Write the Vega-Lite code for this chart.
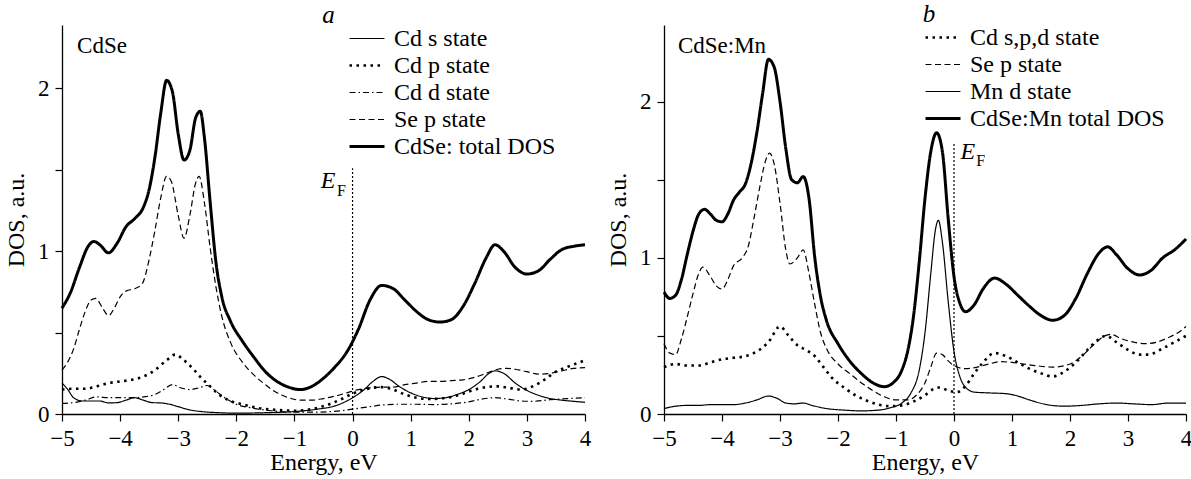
{
"$schema": "https://vega.github.io/schema/vega-lite/v6.json",
"padding": {"left": 4, "top": 2, "right": 2, "bottom": 2},
"spacing": 15,
"config": {
  "font": "Liberation Serif",
  "view": {"stroke": null},
  "axis": {"labelFont": "Liberation Serif", "labelFontSize": 23, "labelColor": "#000", "titleFont": "Liberation Serif", "titleFontSize": 24, "titleFontWeight": "normal", "titleColor": "#000", "domainColor": "#000", "domainWidth": 1.3, "tickColor": "#000", "tickWidth": 1.2, "tickSize": 7, "grid": false, "labelFlush": false, "labelOverlap": false},
  "axisX": {"labelPadding": 6, "titlePadding": 0},
  "axisY": {"labelPadding": 6, "titlePadding": 9},
  "legend": {"labelFont": "Liberation Serif", "labelFontSize": 24, "labelColor": "#000", "labelLimit": 400, "symbolType": "stroke", "symbolSize": 1225, "symbolStrokeColor": "#000", "rowPadding": 0, "clipHeight": 27, "labelOffset": 8, "padding": 0},
  "title": {"font": "Liberation Serif", "fontSize": 25, "fontStyle": "italic", "fontWeight": "normal", "color": "#000", "anchor": "middle", "baseline": "alphabetic", "offset": -3}
},
"resolve": {"scale": {"x": "independent", "y": "independent", "strokeDash": "independent", "strokeWidth": "independent"}, "legend": {"strokeDash": "independent", "strokeWidth": "independent"}},
"hconcat": [
{
  "title": {"text": "a", "dx": 5},
  "width": 523, "height": 389,
  "layer": [
    {
      "data": {"values": [
        {"series":"CdSe: total DOS","energy":-5,"dos":0.65},{"series":"CdSe: total DOS","energy":-4.85,"dos":0.75},{"series":"CdSe: total DOS","energy":-4.7,"dos":0.9},{"series":"CdSe: total DOS","energy":-4.55,"dos":1.03},{"series":"CdSe: total DOS","energy":-4.45,"dos":1.06},{"series":"CdSe: total DOS","energy":-4.35,"dos":1.04},{"series":"CdSe: total DOS","energy":-4.2,"dos":0.99},{"series":"CdSe: total DOS","energy":-4.05,"dos":1.05},{"series":"CdSe: total DOS","energy":-3.9,"dos":1.15},{"series":"CdSe: total DOS","energy":-3.75,"dos":1.2},{"series":"CdSe: total DOS","energy":-3.6,"dos":1.27},{"series":"CdSe: total DOS","energy":-3.5,"dos":1.38},{"series":"CdSe: total DOS","energy":-3.4,"dos":1.58},{"series":"CdSe: total DOS","energy":-3.3,"dos":1.85},{"series":"CdSe: total DOS","energy":-3.2,"dos":2.05},{"series":"CdSe: total DOS","energy":-3.1,"dos":1.98},{"series":"CdSe: total DOS","energy":-3.0,"dos":1.72},{"series":"CdSe: total DOS","energy":-2.9,"dos":1.56},{"series":"CdSe: total DOS","energy":-2.8,"dos":1.62},{"series":"CdSe: total DOS","energy":-2.7,"dos":1.82},{"series":"CdSe: total DOS","energy":-2.62,"dos":1.86},{"series":"CdSe: total DOS","energy":-2.55,"dos":1.7},{"series":"CdSe: total DOS","energy":-2.45,"dos":1.3},{"series":"CdSe: total DOS","energy":-2.35,"dos":0.93},{"series":"CdSe: total DOS","energy":-2.25,"dos":0.72},{"series":"CdSe: total DOS","energy":-2.1,"dos":0.57},{"series":"CdSe: total DOS","energy":-1.9,"dos":0.45},{"series":"CdSe: total DOS","energy":-1.7,"dos":0.35},{"series":"CdSe: total DOS","energy":-1.5,"dos":0.26},{"series":"CdSe: total DOS","energy":-1.3,"dos":0.2},{"series":"CdSe: total DOS","energy":-1.1,"dos":0.165},{"series":"CdSe: total DOS","energy":-0.9,"dos":0.15},{"series":"CdSe: total DOS","energy":-0.7,"dos":0.17},{"series":"CdSe: total DOS","energy":-0.5,"dos":0.22},{"series":"CdSe: total DOS","energy":-0.3,"dos":0.29},{"series":"CdSe: total DOS","energy":-0.1,"dos":0.38},{"series":"CdSe: total DOS","energy":0.1,"dos":0.52},{"series":"CdSe: total DOS","energy":0.3,"dos":0.7},{"series":"CdSe: total DOS","energy":0.5,"dos":0.79},{"series":"CdSe: total DOS","energy":0.7,"dos":0.77},{"series":"CdSe: total DOS","energy":0.9,"dos":0.7},{"series":"CdSe: total DOS","energy":1.1,"dos":0.63},{"series":"CdSe: total DOS","energy":1.3,"dos":0.58},{"series":"CdSe: total DOS","energy":1.5,"dos":0.565},{"series":"CdSe: total DOS","energy":1.7,"dos":0.58},{"series":"CdSe: total DOS","energy":1.9,"dos":0.66},{"series":"CdSe: total DOS","energy":2.1,"dos":0.8},{"series":"CdSe: total DOS","energy":2.3,"dos":0.96},{"series":"CdSe: total DOS","energy":2.45,"dos":1.04},{"series":"CdSe: total DOS","energy":2.6,"dos":1.0},{"series":"CdSe: total DOS","energy":2.8,"dos":0.9},{"series":"CdSe: total DOS","energy":3.0,"dos":0.86},{"series":"CdSe: total DOS","energy":3.2,"dos":0.88},{"series":"CdSe: total DOS","energy":3.4,"dos":0.95},{"series":"CdSe: total DOS","energy":3.6,"dos":1.01},{"series":"CdSe: total DOS","energy":3.8,"dos":1.03},{"series":"CdSe: total DOS","energy":4.0,"dos":1.04},

        {"series":"Se p state","energy":-5,"dos":0.27},{"series":"Se p state","energy":-4.9,"dos":0.32},{"series":"Se p state","energy":-4.8,"dos":0.4},{"series":"Se p state","energy":-4.7,"dos":0.52},{"series":"Se p state","energy":-4.6,"dos":0.63},{"series":"Se p state","energy":-4.5,"dos":0.7},{"series":"Se p state","energy":-4.42,"dos":0.71},{"series":"Se p state","energy":-4.3,"dos":0.65},{"series":"Se p state","energy":-4.2,"dos":0.605},{"series":"Se p state","energy":-4.1,"dos":0.65},{"series":"Se p state","energy":-4.0,"dos":0.72},{"series":"Se p state","energy":-3.9,"dos":0.755},{"series":"Se p state","energy":-3.75,"dos":0.77},{"series":"Se p state","energy":-3.62,"dos":0.8},{"series":"Se p state","energy":-3.5,"dos":0.95},{"series":"Se p state","energy":-3.4,"dos":1.13},{"series":"Se p state","energy":-3.3,"dos":1.33},{"series":"Se p state","energy":-3.2,"dos":1.46},{"series":"Se p state","energy":-3.12,"dos":1.43},{"series":"Se p state","energy":-3.0,"dos":1.22},{"series":"Se p state","energy":-2.9,"dos":1.08},{"series":"Se p state","energy":-2.8,"dos":1.22},{"series":"Se p state","energy":-2.7,"dos":1.42},{"series":"Se p state","energy":-2.64,"dos":1.46},{"series":"Se p state","energy":-2.55,"dos":1.3},{"series":"Se p state","energy":-2.45,"dos":1.02},{"series":"Se p state","energy":-2.35,"dos":0.78},{"series":"Se p state","energy":-2.25,"dos":0.6},{"series":"Se p state","energy":-2.1,"dos":0.44},{"series":"Se p state","energy":-1.9,"dos":0.32},{"series":"Se p state","energy":-1.7,"dos":0.24},{"series":"Se p state","energy":-1.5,"dos":0.18},{"series":"Se p state","energy":-1.3,"dos":0.13},{"series":"Se p state","energy":-1.1,"dos":0.1},{"series":"Se p state","energy":-0.9,"dos":0.085},{"series":"Se p state","energy":-0.7,"dos":0.085},{"series":"Se p state","energy":-0.5,"dos":0.095},{"series":"Se p state","energy":-0.3,"dos":0.11},{"series":"Se p state","energy":-0.1,"dos":0.13},{"series":"Se p state","energy":0.1,"dos":0.15},{"series":"Se p state","energy":0.3,"dos":0.16},{"series":"Se p state","energy":0.5,"dos":0.165},{"series":"Se p state","energy":0.7,"dos":0.165},{"series":"Se p state","energy":0.9,"dos":0.18},{"series":"Se p state","energy":1.1,"dos":0.19},{"series":"Se p state","energy":1.3,"dos":0.2},{"series":"Se p state","energy":1.5,"dos":0.2},{"series":"Se p state","energy":1.7,"dos":0.205},{"series":"Se p state","energy":1.9,"dos":0.21},{"series":"Se p state","energy":2.1,"dos":0.225},{"series":"Se p state","energy":2.3,"dos":0.25},{"series":"Se p state","energy":2.5,"dos":0.275},{"series":"Se p state","energy":2.65,"dos":0.28},{"series":"Se p state","energy":2.8,"dos":0.275},{"series":"Se p state","energy":3.0,"dos":0.26},{"series":"Se p state","energy":3.2,"dos":0.245},{"series":"Se p state","energy":3.4,"dos":0.25},{"series":"Se p state","energy":3.6,"dos":0.265},{"series":"Se p state","energy":3.8,"dos":0.28},{"series":"Se p state","energy":4.0,"dos":0.285},

        {"series":"Cd s state","energy":-5,"dos":0.19},{"series":"Cd s state","energy":-4.9,"dos":0.15},{"series":"Cd s state","energy":-4.8,"dos":0.1},{"series":"Cd s state","energy":-4.65,"dos":0.08},{"series":"Cd s state","energy":-4.5,"dos":0.08},{"series":"Cd s state","energy":-4.35,"dos":0.08},{"series":"Cd s state","energy":-4.2,"dos":0.068},{"series":"Cd s state","energy":-4.05,"dos":0.07},{"series":"Cd s state","energy":-3.9,"dos":0.085},{"series":"Cd s state","energy":-3.75,"dos":0.1},{"series":"Cd s state","energy":-3.6,"dos":0.085},{"series":"Cd s state","energy":-3.45,"dos":0.07},{"series":"Cd s state","energy":-3.3,"dos":0.068},{"series":"Cd s state","energy":-3.15,"dos":0.06},{"series":"Cd s state","energy":-3.0,"dos":0.045},{"series":"Cd s state","energy":-2.8,"dos":0.025},{"series":"Cd s state","energy":-2.6,"dos":0.015},{"series":"Cd s state","energy":-2.3,"dos":0.008},{"series":"Cd s state","energy":-2.0,"dos":0.005},{"series":"Cd s state","energy":-1.5,"dos":0.008},{"series":"Cd s state","energy":-1.0,"dos":0.015},{"series":"Cd s state","energy":-0.6,"dos":0.03},{"series":"Cd s state","energy":-0.3,"dos":0.05},{"series":"Cd s state","energy":0.0,"dos":0.1},{"series":"Cd s state","energy":0.2,"dos":0.15},{"series":"Cd s state","energy":0.35,"dos":0.2},{"series":"Cd s state","energy":0.5,"dos":0.23},{"series":"Cd s state","energy":0.65,"dos":0.21},{"series":"Cd s state","energy":0.8,"dos":0.17},{"series":"Cd s state","energy":1.0,"dos":0.13},{"series":"Cd s state","energy":1.2,"dos":0.105},{"series":"Cd s state","energy":1.4,"dos":0.095},{"series":"Cd s state","energy":1.6,"dos":0.1},{"series":"Cd s state","energy":1.8,"dos":0.12},{"series":"Cd s state","energy":2.0,"dos":0.15},{"series":"Cd s state","energy":2.2,"dos":0.2},{"series":"Cd s state","energy":2.35,"dos":0.25},{"series":"Cd s state","energy":2.45,"dos":0.265},{"series":"Cd s state","energy":2.6,"dos":0.25},{"series":"Cd s state","energy":2.8,"dos":0.19},{"series":"Cd s state","energy":3.0,"dos":0.145},{"series":"Cd s state","energy":3.2,"dos":0.115},{"series":"Cd s state","energy":3.4,"dos":0.095},{"series":"Cd s state","energy":3.6,"dos":0.085},{"series":"Cd s state","energy":3.8,"dos":0.078},{"series":"Cd s state","energy":4.0,"dos":0.072},

        {"series":"Cd p state","energy":-5,"dos":0.15},{"series":"Cd p state","energy":-4.8,"dos":0.155},{"series":"Cd p state","energy":-4.6,"dos":0.155},{"series":"Cd p state","energy":-4.4,"dos":0.17},{"series":"Cd p state","energy":-4.2,"dos":0.19},{"series":"Cd p state","energy":-4.0,"dos":0.2},{"series":"Cd p state","energy":-3.8,"dos":0.21},{"series":"Cd p state","energy":-3.6,"dos":0.23},{"series":"Cd p state","energy":-3.4,"dos":0.27},{"series":"Cd p state","energy":-3.2,"dos":0.33},{"series":"Cd p state","energy":-3.05,"dos":0.365},{"series":"Cd p state","energy":-2.9,"dos":0.33},{"series":"Cd p state","energy":-2.75,"dos":0.28},{"series":"Cd p state","energy":-2.6,"dos":0.22},{"series":"Cd p state","energy":-2.45,"dos":0.17},{"series":"Cd p state","energy":-2.3,"dos":0.12},{"series":"Cd p state","energy":-2.1,"dos":0.08},{"series":"Cd p state","energy":-1.9,"dos":0.06},{"series":"Cd p state","energy":-1.6,"dos":0.035},{"series":"Cd p state","energy":-1.3,"dos":0.025},{"series":"Cd p state","energy":-1.0,"dos":0.02},{"series":"Cd p state","energy":-0.7,"dos":0.03},{"series":"Cd p state","energy":-0.4,"dos":0.06},{"series":"Cd p state","energy":-0.2,"dos":0.09},{"series":"Cd p state","energy":0.0,"dos":0.125},{"series":"Cd p state","energy":0.2,"dos":0.15},{"series":"Cd p state","energy":0.5,"dos":0.165},{"series":"Cd p state","energy":0.7,"dos":0.15},{"series":"Cd p state","energy":0.9,"dos":0.12},{"series":"Cd p state","energy":1.1,"dos":0.1},{"series":"Cd p state","energy":1.3,"dos":0.092},{"series":"Cd p state","energy":1.5,"dos":0.095},{"series":"Cd p state","energy":1.7,"dos":0.105},{"series":"Cd p state","energy":1.9,"dos":0.125},{"series":"Cd p state","energy":2.1,"dos":0.15},{"series":"Cd p state","energy":2.3,"dos":0.165},{"series":"Cd p state","energy":2.5,"dos":0.17},{"series":"Cd p state","energy":2.7,"dos":0.16},{"series":"Cd p state","energy":2.9,"dos":0.15},{"series":"Cd p state","energy":3.1,"dos":0.17},{"series":"Cd p state","energy":3.3,"dos":0.21},{"series":"Cd p state","energy":3.5,"dos":0.26},{"series":"Cd p state","energy":3.7,"dos":0.29},{"series":"Cd p state","energy":3.85,"dos":0.31},{"series":"Cd p state","energy":4.0,"dos":0.33},

        {"series":"Cd d state","energy":-5,"dos":0.065},{"series":"Cd d state","energy":-4.8,"dos":0.07},{"series":"Cd d state","energy":-4.6,"dos":0.085},{"series":"Cd d state","energy":-4.4,"dos":0.105},{"series":"Cd d state","energy":-4.2,"dos":0.1},{"series":"Cd d state","energy":-4.0,"dos":0.1},{"series":"Cd d state","energy":-3.8,"dos":0.1},{"series":"Cd d state","energy":-3.6,"dos":0.105},{"series":"Cd d state","energy":-3.4,"dos":0.12},{"series":"Cd d state","energy":-3.25,"dos":0.15},{"series":"Cd d state","energy":-3.1,"dos":0.18},{"series":"Cd d state","energy":-2.95,"dos":0.16},{"series":"Cd d state","energy":-2.8,"dos":0.15},{"series":"Cd d state","energy":-2.65,"dos":0.16},{"series":"Cd d state","energy":-2.5,"dos":0.175},{"series":"Cd d state","energy":-2.35,"dos":0.14},{"series":"Cd d state","energy":-2.2,"dos":0.1},{"series":"Cd d state","energy":-2.0,"dos":0.06},{"series":"Cd d state","energy":-1.7,"dos":0.035},{"series":"Cd d state","energy":-1.4,"dos":0.02},{"series":"Cd d state","energy":-1.0,"dos":0.012},{"series":"Cd d state","energy":-0.6,"dos":0.012},{"series":"Cd d state","energy":-0.2,"dos":0.02},{"series":"Cd d state","energy":0.0,"dos":0.03},{"series":"Cd d state","energy":0.3,"dos":0.045},{"series":"Cd d state","energy":0.5,"dos":0.055},{"series":"Cd d state","energy":0.8,"dos":0.06},{"series":"Cd d state","energy":1.1,"dos":0.06},{"series":"Cd d state","energy":1.4,"dos":0.058},{"series":"Cd d state","energy":1.7,"dos":0.062},{"series":"Cd d state","energy":2.0,"dos":0.075},{"series":"Cd d state","energy":2.2,"dos":0.09},{"series":"Cd d state","energy":2.45,"dos":0.1},{"series":"Cd d state","energy":2.7,"dos":0.09},{"series":"Cd d state","energy":2.9,"dos":0.08},{"series":"Cd d state","energy":3.1,"dos":0.078},{"series":"Cd d state","energy":3.4,"dos":0.088},{"series":"Cd d state","energy":3.7,"dos":0.095},{"series":"Cd d state","energy":4.0,"dos":0.1}
      ]},
      "mark": {"type": "line", "interpolate": "monotone", "color": "#000"},
      "encoding": {
        "x": {"field": "energy", "type": "quantitative", "scale": {"domain": [-5, 4], "nice": false, "zero": false}, "axis": {"title": "Energy, eV", "values": [-5,-4.5,-4,-3.5,-3,-2.5,-2,-1.5,-1,-0.5,0,0.5,1,1.5,2,2.5,3,3.5,4], "format": "~g", "labelExpr": "datum.value % 1 == 0 ? datum.label : ''"}},
        "y": {"field": "dos", "type": "quantitative", "scale": {"domain": [0, 2.39], "nice": false}, "axis": {"title": "DOS, a.u.", "values": [0, 0.5, 1, 1.5, 2], "format": "~g", "labelExpr": "datum.value % 1 == 0 ? datum.label : ''"}},
        "strokeDash": {"field": "series", "type": "nominal", "scale": {"domain": ["Cd s state", "Cd p state", "Cd d state", "Se p state", "CdSe: total DOS"], "range": [[1, 0], [2.5, 4.5], [6, 3, 1.5, 3], [6, 3.5], [1, 0]]}, "legend": {"title": null, "orient": "none", "legendX": 286, "legendY": 0}},
        "strokeWidth": {"field": "series", "type": "nominal", "scale": {"type": "ordinal", "domain": ["Cd s state", "Cd p state", "Cd d state", "Se p state", "CdSe: total DOS"], "range": [1.2, 2.6, 1.2, 1.2, 3]}, "legend": {"title": null, "orient": "none", "legendX": 286, "legendY": 0}}
      }
    },
    {"data": {"values": [{}]}, "mark": {"type": "rule", "color": "#000", "strokeWidth": 1.2, "strokeDash": [2, 2]}, "encoding": {"x": {"datum": 0}, "y": {"datum": 0}, "y2": {"datum": 1.51}}},
    {"data": {"values": [{}]}, "mark": {"type": "text", "text": "CdSe", "align": "left", "baseline": "alphabetic", "fontSize": 23, "font": "Liberation Serif", "color": "#000"}, "encoding": {"x": {"datum": -4.74}, "y": {"datum": 2.22}}},
    {"data": {"values": [{}]}, "mark": {"type": "text", "text": "E", "align": "center", "baseline": "alphabetic", "fontSize": 24, "fontStyle": "italic", "font": "Liberation Serif", "color": "#000"}, "encoding": {"x": {"datum": -0.42}, "y": {"datum": 1.39}}},
    {"data": {"values": [{}]}, "mark": {"type": "text", "text": "F", "align": "center", "baseline": "alphabetic", "fontSize": 16, "font": "Liberation Serif", "color": "#000"}, "encoding": {"x": {"datum": -0.19}, "y": {"datum": 1.34}}}
  ]
},
{
  "title": {"text": "b", "dx": 4},
  "width": 522, "height": 389,
  "layer": [
    {
      "data": {"values": [
        {"series":"CdSe:Mn total DOS","energy":-5,"dos":0.78},{"series":"CdSe:Mn total DOS","energy":-4.9,"dos":0.74},{"series":"CdSe:Mn total DOS","energy":-4.8,"dos":0.76},{"series":"CdSe:Mn total DOS","energy":-4.7,"dos":0.86},{"series":"CdSe:Mn total DOS","energy":-4.6,"dos":1.02},{"series":"CdSe:Mn total DOS","energy":-4.5,"dos":1.17},{"series":"CdSe:Mn total DOS","energy":-4.4,"dos":1.28},{"series":"CdSe:Mn total DOS","energy":-4.3,"dos":1.31},{"series":"CdSe:Mn total DOS","energy":-4.2,"dos":1.28},{"series":"CdSe:Mn total DOS","energy":-4.1,"dos":1.24},{"series":"CdSe:Mn total DOS","energy":-4.0,"dos":1.23},{"series":"CdSe:Mn total DOS","energy":-3.9,"dos":1.28},{"series":"CdSe:Mn total DOS","energy":-3.8,"dos":1.37},{"series":"CdSe:Mn total DOS","energy":-3.7,"dos":1.42},{"series":"CdSe:Mn total DOS","energy":-3.6,"dos":1.47},{"series":"CdSe:Mn total DOS","energy":-3.5,"dos":1.6},{"series":"CdSe:Mn total DOS","energy":-3.4,"dos":1.8},{"series":"CdSe:Mn total DOS","energy":-3.3,"dos":2.05},{"series":"CdSe:Mn total DOS","energy":-3.2,"dos":2.27},{"series":"CdSe:Mn total DOS","energy":-3.1,"dos":2.22},{"series":"CdSe:Mn total DOS","energy":-3.0,"dos":2.0},{"series":"CdSe:Mn total DOS","energy":-2.9,"dos":1.7},{"series":"CdSe:Mn total DOS","energy":-2.8,"dos":1.5},{"series":"CdSe:Mn total DOS","energy":-2.7,"dos":1.48},{"series":"CdSe:Mn total DOS","energy":-2.6,"dos":1.52},{"series":"CdSe:Mn total DOS","energy":-2.5,"dos":1.38},{"series":"CdSe:Mn total DOS","energy":-2.4,"dos":1.0},{"series":"CdSe:Mn total DOS","energy":-2.3,"dos":0.75},{"series":"CdSe:Mn total DOS","energy":-2.2,"dos":0.6},{"series":"CdSe:Mn total DOS","energy":-2.0,"dos":0.45},{"series":"CdSe:Mn total DOS","energy":-1.8,"dos":0.34},{"series":"CdSe:Mn total DOS","energy":-1.6,"dos":0.26},{"series":"CdSe:Mn total DOS","energy":-1.4,"dos":0.2},{"series":"CdSe:Mn total DOS","energy":-1.2,"dos":0.175},{"series":"CdSe:Mn total DOS","energy":-1.05,"dos":0.2},{"series":"CdSe:Mn total DOS","energy":-0.9,"dos":0.28},{"series":"CdSe:Mn total DOS","energy":-0.8,"dos":0.4},{"series":"CdSe:Mn total DOS","energy":-0.7,"dos":0.62},{"series":"CdSe:Mn total DOS","energy":-0.6,"dos":0.97},{"series":"CdSe:Mn total DOS","energy":-0.5,"dos":1.38},{"series":"CdSe:Mn total DOS","energy":-0.4,"dos":1.68},{"series":"CdSe:Mn total DOS","energy":-0.3,"dos":1.8},{"series":"CdSe:Mn total DOS","energy":-0.2,"dos":1.68},{"series":"CdSe:Mn total DOS","energy":-0.1,"dos":1.25},{"series":"CdSe:Mn total DOS","energy":0.0,"dos":0.88},{"series":"CdSe:Mn total DOS","energy":0.1,"dos":0.71},{"series":"CdSe:Mn total DOS","energy":0.2,"dos":0.655},{"series":"CdSe:Mn total DOS","energy":0.35,"dos":0.7},{"series":"CdSe:Mn total DOS","energy":0.5,"dos":0.8},{"series":"CdSe:Mn total DOS","energy":0.7,"dos":0.87},{"series":"CdSe:Mn total DOS","energy":0.9,"dos":0.83},{"series":"CdSe:Mn total DOS","energy":1.1,"dos":0.76},{"series":"CdSe:Mn total DOS","energy":1.3,"dos":0.69},{"series":"CdSe:Mn total DOS","energy":1.5,"dos":0.63},{"series":"CdSe:Mn total DOS","energy":1.7,"dos":0.6},{"series":"CdSe:Mn total DOS","energy":1.9,"dos":0.63},{"series":"CdSe:Mn total DOS","energy":2.1,"dos":0.74},{"series":"CdSe:Mn total DOS","energy":2.3,"dos":0.9},{"series":"CdSe:Mn total DOS","energy":2.5,"dos":1.03},{"series":"CdSe:Mn total DOS","energy":2.65,"dos":1.07},{"series":"CdSe:Mn total DOS","energy":2.8,"dos":1.02},{"series":"CdSe:Mn total DOS","energy":3.0,"dos":0.93},{"series":"CdSe:Mn total DOS","energy":3.2,"dos":0.89},{"series":"CdSe:Mn total DOS","energy":3.4,"dos":0.92},{"series":"CdSe:Mn total DOS","energy":3.6,"dos":1.0},{"series":"CdSe:Mn total DOS","energy":3.8,"dos":1.05},{"series":"CdSe:Mn total DOS","energy":4.0,"dos":1.12},

        {"series":"Se p state","energy":-5,"dos":0.45},{"series":"Se p state","energy":-4.9,"dos":0.39},{"series":"Se p state","energy":-4.8,"dos":0.38},{"series":"Se p state","energy":-4.7,"dos":0.48},{"series":"Se p state","energy":-4.6,"dos":0.62},{"series":"Se p state","energy":-4.5,"dos":0.77},{"series":"Se p state","energy":-4.4,"dos":0.9},{"series":"Se p state","energy":-4.33,"dos":0.94},{"series":"Se p state","energy":-4.2,"dos":0.88},{"series":"Se p state","energy":-4.1,"dos":0.82},{"series":"Se p state","energy":-4.0,"dos":0.8},{"series":"Se p state","energy":-3.9,"dos":0.86},{"series":"Se p state","energy":-3.8,"dos":0.95},{"series":"Se p state","energy":-3.65,"dos":1.0},{"series":"Se p state","energy":-3.55,"dos":1.07},{"series":"Se p state","energy":-3.45,"dos":1.25},{"series":"Se p state","energy":-3.35,"dos":1.45},{"series":"Se p state","energy":-3.25,"dos":1.62},{"series":"Se p state","energy":-3.18,"dos":1.67},{"series":"Se p state","energy":-3.1,"dos":1.6},{"series":"Se p state","energy":-3.0,"dos":1.35},{"series":"Se p state","energy":-2.9,"dos":1.05},{"series":"Se p state","energy":-2.83,"dos":0.96},{"series":"Se p state","energy":-2.7,"dos":1.0},{"series":"Se p state","energy":-2.6,"dos":1.05},{"series":"Se p state","energy":-2.5,"dos":0.9},{"series":"Se p state","energy":-2.4,"dos":0.7},{"series":"Se p state","energy":-2.3,"dos":0.52},{"series":"Se p state","energy":-2.2,"dos":0.42},{"series":"Se p state","energy":-2.0,"dos":0.32},{"series":"Se p state","energy":-1.8,"dos":0.26},{"series":"Se p state","energy":-1.6,"dos":0.2},{"series":"Se p state","energy":-1.4,"dos":0.15},{"series":"Se p state","energy":-1.2,"dos":0.11},{"series":"Se p state","energy":-1.0,"dos":0.09},{"series":"Se p state","energy":-0.8,"dos":0.09},{"series":"Se p state","energy":-0.65,"dos":0.12},{"series":"Se p state","energy":-0.5,"dos":0.2},{"series":"Se p state","energy":-0.4,"dos":0.3},{"series":"Se p state","energy":-0.3,"dos":0.39},{"series":"Se p state","energy":-0.2,"dos":0.38},{"series":"Se p state","energy":-0.1,"dos":0.34},{"series":"Se p state","energy":0.0,"dos":0.31},{"series":"Se p state","energy":0.2,"dos":0.29},{"series":"Se p state","energy":0.4,"dos":0.3},{"series":"Se p state","energy":0.6,"dos":0.32},{"series":"Se p state","energy":0.8,"dos":0.335},{"series":"Se p state","energy":1.0,"dos":0.33},{"series":"Se p state","energy":1.2,"dos":0.32},{"series":"Se p state","energy":1.4,"dos":0.31},{"series":"Se p state","energy":1.7,"dos":0.3},{"series":"Se p state","energy":2.0,"dos":0.32},{"series":"Se p state","energy":2.2,"dos":0.37},{"series":"Se p state","energy":2.4,"dos":0.44},{"series":"Se p state","energy":2.6,"dos":0.5},{"series":"Se p state","energy":2.7,"dos":0.51},{"series":"Se p state","energy":2.9,"dos":0.48},{"series":"Se p state","energy":3.1,"dos":0.46},{"series":"Se p state","energy":3.3,"dos":0.45},{"series":"Se p state","energy":3.5,"dos":0.46},{"series":"Se p state","energy":3.7,"dos":0.49},{"series":"Se p state","energy":3.9,"dos":0.53},{"series":"Se p state","energy":4.0,"dos":0.56},

        {"series":"Mn d state","energy":-5,"dos":0.035},{"series":"Mn d state","energy":-4.8,"dos":0.05},{"series":"Mn d state","energy":-4.6,"dos":0.055},{"series":"Mn d state","energy":-4.4,"dos":0.055},{"series":"Mn d state","energy":-4.2,"dos":0.06},{"series":"Mn d state","energy":-4.0,"dos":0.06},{"series":"Mn d state","energy":-3.8,"dos":0.06},{"series":"Mn d state","energy":-3.6,"dos":0.07},{"series":"Mn d state","energy":-3.4,"dos":0.09},{"series":"Mn d state","energy":-3.2,"dos":0.115},{"series":"Mn d state","energy":-3.05,"dos":0.1},{"series":"Mn d state","energy":-2.9,"dos":0.07},{"series":"Mn d state","energy":-2.75,"dos":0.065},{"series":"Mn d state","energy":-2.6,"dos":0.07},{"series":"Mn d state","energy":-2.45,"dos":0.055},{"series":"Mn d state","energy":-2.2,"dos":0.035},{"series":"Mn d state","energy":-1.9,"dos":0.025},{"series":"Mn d state","energy":-1.6,"dos":0.02},{"series":"Mn d state","energy":-1.3,"dos":0.025},{"series":"Mn d state","energy":-1.1,"dos":0.04},{"series":"Mn d state","energy":-0.9,"dos":0.07},{"series":"Mn d state","energy":-0.75,"dos":0.13},{"series":"Mn d state","energy":-0.6,"dos":0.28},{"series":"Mn d state","energy":-0.5,"dos":0.52},{"series":"Mn d state","energy":-0.4,"dos":0.9},{"series":"Mn d state","energy":-0.32,"dos":1.18},{"series":"Mn d state","energy":-0.27,"dos":1.24},{"series":"Mn d state","energy":-0.2,"dos":1.1},{"series":"Mn d state","energy":-0.1,"dos":0.72},{"series":"Mn d state","energy":0.0,"dos":0.4},{"series":"Mn d state","energy":0.1,"dos":0.24},{"series":"Mn d state","energy":0.2,"dos":0.17},{"series":"Mn d state","energy":0.35,"dos":0.14},{"series":"Mn d state","energy":0.6,"dos":0.135},{"series":"Mn d state","energy":0.9,"dos":0.13},{"series":"Mn d state","energy":1.1,"dos":0.115},{"series":"Mn d state","energy":1.3,"dos":0.09},{"series":"Mn d state","energy":1.6,"dos":0.06},{"series":"Mn d state","energy":1.9,"dos":0.05},{"series":"Mn d state","energy":2.2,"dos":0.055},{"series":"Mn d state","energy":2.5,"dos":0.065},{"series":"Mn d state","energy":2.8,"dos":0.07},{"series":"Mn d state","energy":3.1,"dos":0.065},{"series":"Mn d state","energy":3.4,"dos":0.06},{"series":"Mn d state","energy":3.7,"dos":0.07},{"series":"Mn d state","energy":4.0,"dos":0.07},

        {"series":"Cd s,p,d state","energy":-5,"dos":0.3},{"series":"Cd s,p,d state","energy":-4.8,"dos":0.32},{"series":"Cd s,p,d state","energy":-4.6,"dos":0.31},{"series":"Cd s,p,d state","energy":-4.4,"dos":0.31},{"series":"Cd s,p,d state","energy":-4.2,"dos":0.33},{"series":"Cd s,p,d state","energy":-4.0,"dos":0.35},{"series":"Cd s,p,d state","energy":-3.8,"dos":0.36},{"series":"Cd s,p,d state","energy":-3.6,"dos":0.37},{"series":"Cd s,p,d state","energy":-3.4,"dos":0.4},{"series":"Cd s,p,d state","energy":-3.2,"dos":0.46},{"series":"Cd s,p,d state","energy":-3.0,"dos":0.56},{"series":"Cd s,p,d state","energy":-2.85,"dos":0.5},{"series":"Cd s,p,d state","energy":-2.7,"dos":0.44},{"series":"Cd s,p,d state","energy":-2.55,"dos":0.41},{"series":"Cd s,p,d state","energy":-2.4,"dos":0.37},{"series":"Cd s,p,d state","energy":-2.25,"dos":0.3},{"series":"Cd s,p,d state","energy":-2.1,"dos":0.23},{"series":"Cd s,p,d state","energy":-1.9,"dos":0.17},{"series":"Cd s,p,d state","energy":-1.7,"dos":0.12},{"series":"Cd s,p,d state","energy":-1.5,"dos":0.085},{"series":"Cd s,p,d state","energy":-1.3,"dos":0.06},{"series":"Cd s,p,d state","energy":-1.1,"dos":0.05},{"series":"Cd s,p,d state","energy":-0.9,"dos":0.055},{"series":"Cd s,p,d state","energy":-0.7,"dos":0.08},{"series":"Cd s,p,d state","energy":-0.5,"dos":0.12},{"series":"Cd s,p,d state","energy":-0.35,"dos":0.16},{"series":"Cd s,p,d state","energy":-0.25,"dos":0.17},{"series":"Cd s,p,d state","energy":-0.1,"dos":0.15},{"series":"Cd s,p,d state","energy":0.05,"dos":0.14},{"series":"Cd s,p,d state","energy":0.2,"dos":0.18},{"series":"Cd s,p,d state","energy":0.35,"dos":0.26},{"series":"Cd s,p,d state","energy":0.5,"dos":0.33},{"series":"Cd s,p,d state","energy":0.7,"dos":0.39},{"series":"Cd s,p,d state","energy":0.9,"dos":0.37},{"series":"Cd s,p,d state","energy":1.1,"dos":0.33},{"series":"Cd s,p,d state","energy":1.3,"dos":0.29},{"series":"Cd s,p,d state","energy":1.5,"dos":0.26},{"series":"Cd s,p,d state","energy":1.7,"dos":0.24},{"series":"Cd s,p,d state","energy":1.9,"dos":0.27},{"series":"Cd s,p,d state","energy":2.1,"dos":0.33},{"series":"Cd s,p,d state","energy":2.3,"dos":0.41},{"series":"Cd s,p,d state","energy":2.5,"dos":0.48},{"series":"Cd s,p,d state","energy":2.62,"dos":0.5},{"series":"Cd s,p,d state","energy":2.8,"dos":0.46},{"series":"Cd s,p,d state","energy":3.0,"dos":0.41},{"series":"Cd s,p,d state","energy":3.2,"dos":0.38},{"series":"Cd s,p,d state","energy":3.35,"dos":0.38},{"series":"Cd s,p,d state","energy":3.6,"dos":0.42},{"series":"Cd s,p,d state","energy":3.8,"dos":0.46},{"series":"Cd s,p,d state","energy":4.0,"dos":0.5}
      ]},
      "mark": {"type": "line", "interpolate": "monotone", "color": "#000"},
      "encoding": {
        "x": {"field": "energy", "type": "quantitative", "scale": {"domain": [-5, 4], "nice": false, "zero": false}, "axis": {"title": "Energy, eV", "values": [-5,-4.5,-4,-3.5,-3,-2.5,-2,-1.5,-1,-0.5,0,0.5,1,1.5,2,2.5,3,3.5,4], "format": "~g", "labelExpr": "datum.value % 1 == 0 ? datum.label : ''"}},
        "y": {"field": "dos", "type": "quantitative", "scale": {"domain": [0, 2.49], "nice": false}, "axis": {"title": "DOS, a.u.", "values": [0, 0.5, 1, 1.5, 2], "format": "~g", "labelExpr": "datum.value % 1 == 0 ? datum.label : ''"}},
        "strokeDash": {"field": "series", "type": "nominal", "scale": {"domain": ["Cd s,p,d state", "Se p state", "Mn d state", "CdSe:Mn total DOS"], "range": [[2.5, 4.5], [6, 3.5], [1, 0], [1, 0]]}, "legend": {"title": null, "orient": "none", "legendX": 260, "legendY": -1}},
        "strokeWidth": {"field": "series", "type": "nominal", "scale": {"type": "ordinal", "domain": ["Cd s,p,d state", "Se p state", "Mn d state", "CdSe:Mn total DOS"], "range": [2.6, 1.2, 1.2, 3]}, "legend": {"title": null, "orient": "none", "legendX": 260, "legendY": -1}}
      }
    },
    {"data": {"values": [{}]}, "mark": {"type": "rule", "color": "#000", "strokeWidth": 1.2, "strokeDash": [2, 2]}, "encoding": {"x": {"datum": 0}, "y": {"datum": 0}, "y2": {"datum": 1.73}}},
    {"data": {"values": [{}]}, "mark": {"type": "text", "text": "CdSe:Mn", "align": "left", "baseline": "alphabetic", "fontSize": 23, "font": "Liberation Serif", "color": "#000"}, "encoding": {"x": {"datum": -4.76}, "y": {"datum": 2.31}}},
    {"data": {"values": [{}]}, "mark": {"type": "text", "text": "E", "align": "center", "baseline": "alphabetic", "fontSize": 24, "fontStyle": "italic", "font": "Liberation Serif", "color": "#000"}, "encoding": {"x": {"datum": 0.24}, "y": {"datum": 1.63}}},
    {"data": {"values": [{}]}, "mark": {"type": "text", "text": "F", "align": "center", "baseline": "alphabetic", "fontSize": 16, "font": "Liberation Serif", "color": "#000"}, "encoding": {"x": {"datum": 0.46}, "y": {"datum": 1.59}}}
  ]
}
]
}
